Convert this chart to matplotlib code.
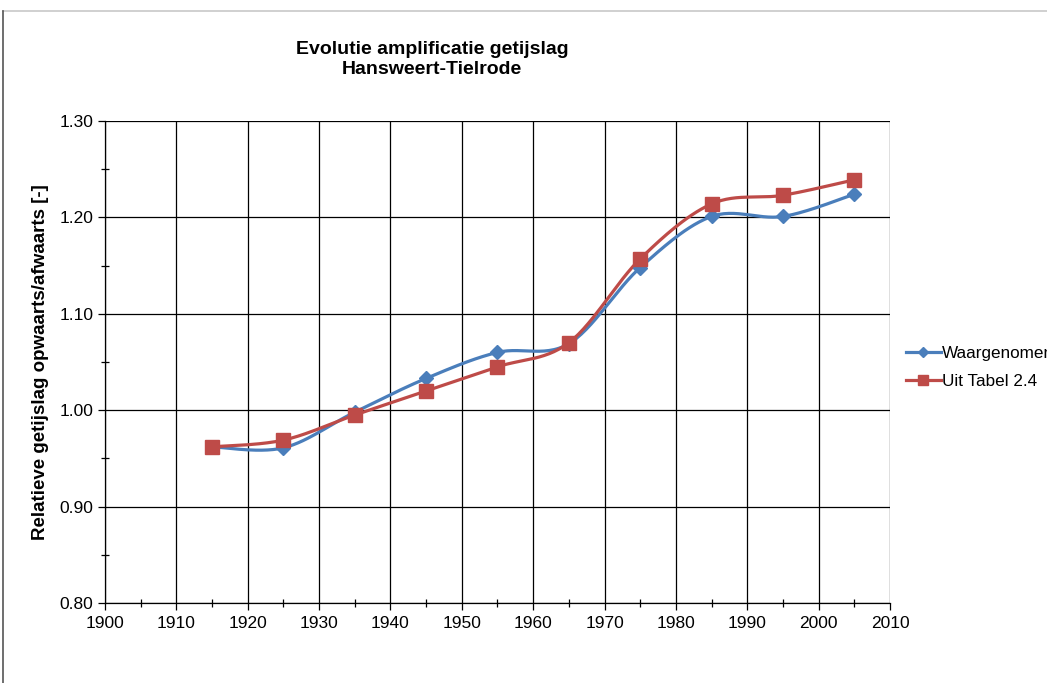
import numpy as np
import matplotlib
matplotlib.use("Agg")
import matplotlib.pyplot as plt
from matplotlib.lines import Line2D
from matplotlib.ticker import MultipleLocator, FormatStrFormatter

plt.rcParams['font.family'] = ['Liberation Sans', 'DejaVu Sans']

# meetjaren en relatieve getijslag
jaren = [1915, 1925, 1935, 1945, 1955, 1965, 1975, 1985, 1995, 2005]
waargenomen = [0.962, 0.961, 0.998, 1.033, 1.060, 1.069, 1.148, 1.201, 1.201, 1.224]
uit_tabel = [0.962, 0.969, 0.995, 1.020, 1.045, 1.070, 1.157, 1.214, 1.223, 1.239]

titel = "Evolutie amplificatie getijslag\nHansweert-Tielrode"
ylabel = "Relatieve getijslag opwaarts/afwaarts [-]"
labels = ["Waargenomen", "Uit Tabel 2.4"]


def smooth(x, y, n=30):
    # Bezier-curve door de punten, zoals een 'vloeiende lijn' in Excel
    x = np.asarray(x, float)
    y = np.asarray(y, float)
    xs, ys = [], []
    for i in range(len(x) - 1):
        p0 = np.array([x[max(i - 1, 0)], y[max(i - 1, 0)]])
        p1 = np.array([x[i], y[i]])
        p2 = np.array([x[i + 1], y[i + 1]])
        p3 = np.array([x[min(i + 2, len(x) - 1)], y[min(i + 2, len(x) - 1)]])
        c1 = p1 + (p2 - p0) / 6.0
        c2 = p2 - (p3 - p1) / 6.0
        t = np.linspace(0, 1, n)[:, None]
        pts = ((1 - t) ** 3) * p1 + 3 * ((1 - t) ** 2) * t * c1 + 3 * (1 - t) * t ** 2 * c2 + t ** 3 * p2
        xs.extend(pts[:, 0])
        ys.extend(pts[:, 1])
    return xs, ys


fig = plt.figure(figsize=(10.47, 6.83), dpi=100)
ax = fig.add_axes([0.1003, 0.1171, 0.7497, 0.7057])

blauw = "#4a7ebb"
rood = "#be4b48"

sx, sy = smooth(jaren, waargenomen)
ax.plot(sx, sy, color=blauw, lw=2.3, zorder=3)
ax.plot(jaren, waargenomen, ls="none", marker="D", ms=7, color=blauw, zorder=4)

sx, sy = smooth(jaren, uit_tabel)
ax.plot(sx, sy, color=rood, lw=2.3, zorder=3)
ax.plot(jaren, uit_tabel, ls="none", marker="s", ms=9.5, color=rood, zorder=4)

ax.set_xlim(1900, 2010)
ax.set_ylim(0.80, 1.30)
ax.xaxis.set_major_locator(MultipleLocator(10))
ax.xaxis.set_minor_locator(MultipleLocator(5))
ax.yaxis.set_major_locator(MultipleLocator(0.1))
ax.yaxis.set_minor_locator(MultipleLocator(0.05))
ax.yaxis.set_major_formatter(FormatStrFormatter("%.2f"))
ax.grid(True, which="major", color="black", lw=0.9)
ax.tick_params(which="major", direction="out", length=5, width=0.9, labelsize=12.5, colors="black")
ax.tick_params(which="minor", direction="inout", length=6, width=0.9)
ax.tick_params(axis="x", pad=4)
for s in ["top", "right"]:
    ax.spines[s].set_visible(False)
for s in ["left", "bottom"]:
    ax.spines[s].set_linewidth(0.9)

ax.set_ylabel(ylabel, fontsize=13.5, fontweight="bold", labelpad=7)
fig.text(0.4125, 0.913, titel, ha="center", va="center", fontsize=14,
         fontweight="bold", linespacing=1.2)

handles = [
    Line2D([], [], color=blauw, lw=2.3, marker="D", ms=5),
    Line2D([], [], color=rood, lw=2.3, marker="s", ms=7),
]
fig.legend(handles, labels, loc="center left", bbox_to_anchor=(0.851, 0.462),
           frameon=False, fontsize=12.3, handlelength=2.0, handletextpad=0.1,
           labelspacing=0.75)

# kader rond de grafiek
fig.add_artist(Line2D([0.003, 1.0], [0.984, 0.984], color="#c8c8c8", lw=1.2))
fig.add_artist(Line2D([0.003, 0.003], [0.0, 0.984], color="#555555", lw=1.2))

fig.savefig("out.png", dpi=100)
